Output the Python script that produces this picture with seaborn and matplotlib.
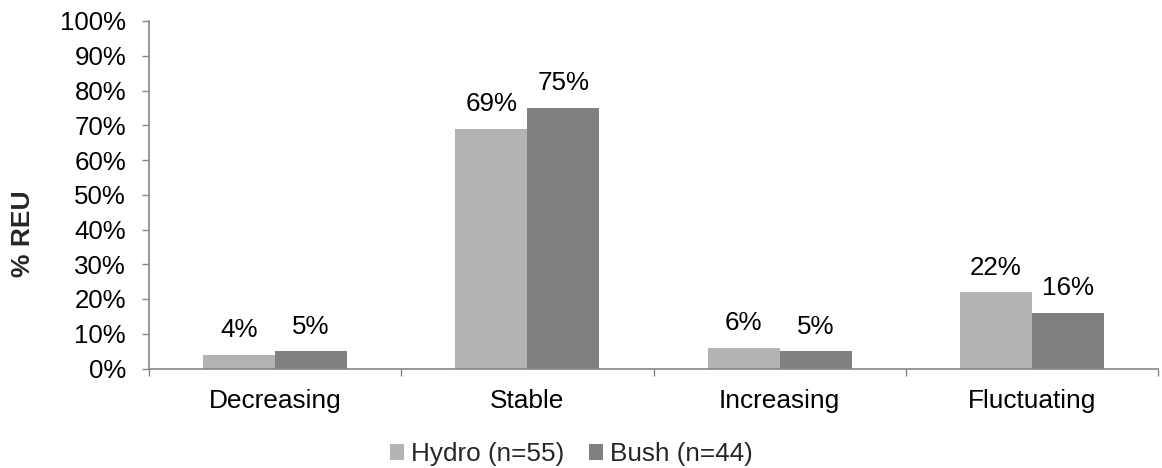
import matplotlib
matplotlib.use("Agg")
import matplotlib.pyplot as plt
import seaborn as sns
import pandas as pd
from matplotlib.ticker import FixedLocator, PercentFormatter

categories = ["Decreasing", "Stable", "Increasing", "Fluctuating"]
series_names = ["Hydro (n=55)", "Bush (n=44)"]
hydro = [4, 69, 6, 22]
bush = [5, 75, 5, 16]
y_ticks = list(range(0, 101, 10))

df = pd.DataFrame({
    "Trend": categories * 2,
    "Group": [series_names[0]] * len(categories) + [series_names[1]] * len(categories),
    "Value": hydro + bush,
})

sns.set_theme(style="white")
plt.rcParams["font.family"] = ["Liberation Sans", "DejaVu Sans"]

W, H = 1162, 468
fig = plt.figure(figsize=(W / 100, H / 100), dpi=100)
ax = fig.add_axes([149 / W, 1 - 368.5 / H, (1158 - 149) / W, (368.5 - 21) / H])

palette = {series_names[0]: "#b3b3b3", series_names[1]: "#808080"}
sns.barplot(data=df, x="Trend", y="Value", hue="Group", order=categories,
            hue_order=series_names, palette=palette, width=0.571,
            saturation=1, ax=ax, legend=True, edgecolor="none", linewidth=0)

for container in ax.containers:
    ax.bar_label(container, labels=[f"{v:.0f}%" for v in container.datavalues],
                 padding=9, fontsize=18.7, color="#000000")

ax.set_xlim(-0.5, len(categories) - 0.5)
ax.set_ylim(0, 100)
ax.set_yticks(y_ticks)
ax.yaxis.set_major_formatter(PercentFormatter(decimals=0))
ax.tick_params(axis="y", labelsize=18.6, length=5, width=1, color="#868686",
               direction="out", left=True, pad=11.5, labelcolor="#000000")
ax.tick_params(axis="x", which="major", labelsize=18.9, length=0, pad=14.5,
               labelcolor="#000000")
ax.xaxis.set_minor_locator(FixedLocator([i - 0.5 for i in range(len(categories) + 1)]))
ax.tick_params(axis="x", which="minor", length=5, width=1, color="#868686",
               direction="out", bottom=True)

ax.set_xlabel("")
ax.set_ylabel("% REU", fontsize=19, fontweight="bold", va="center")
ax.yaxis.set_label_coords(23 / W, 0.5, transform=fig.transFigure)

for side in ["top", "right"]:
    ax.spines[side].set_visible(False)
for side in ["left", "bottom"]:
    ax.spines[side].set_color("#868686")
    ax.spines[side].set_linewidth(1.2)

handles, labels = ax.get_legend_handles_labels()
ax.get_legend().remove()
fig.legend(handles, labels, loc="center", bbox_to_anchor=(571.5 / W, 1 - 454 / H),
           ncol=2, frameon=False, fontsize=18.8, handlelength=0.54, handleheight=0.54,
           handletextpad=0.27, columnspacing=0.92, borderpad=0, borderaxespad=0)

fig.savefig("out.png", dpi=100, facecolor="white")
